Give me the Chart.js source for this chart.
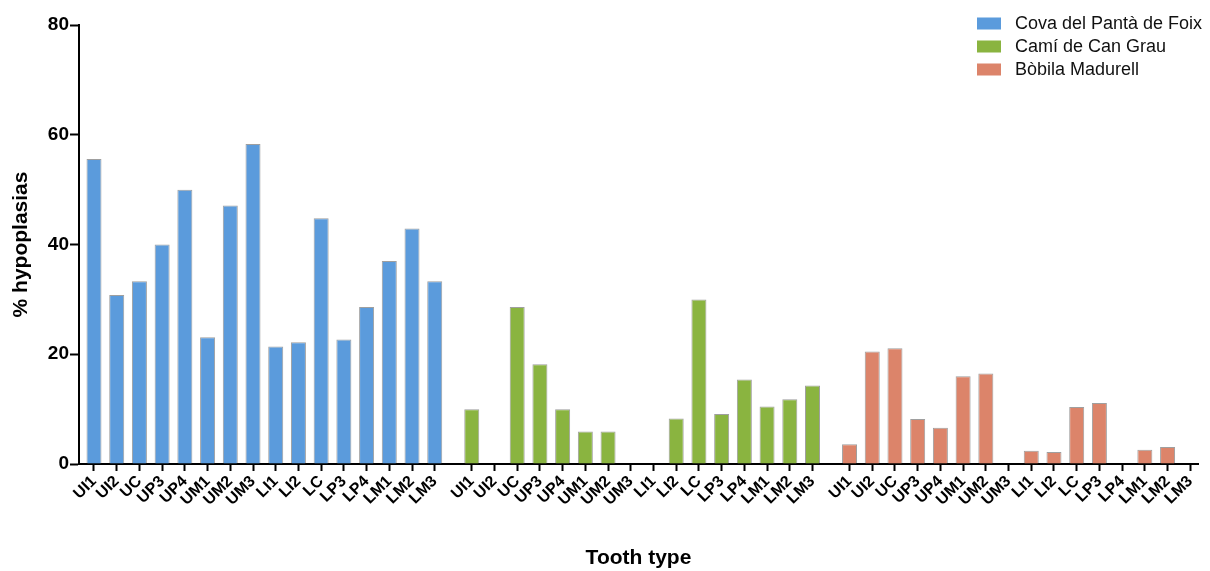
<!DOCTYPE html>
<html lang="en">
<head>
    <meta charset="UTF-8">
    <title>Hypoplasias by tooth type</title>
    <style>
        body { margin: 0; background: #fff; }
        #wrap { width: 1210px; height: 571px; }
    </style>
</head>
<body>
    <div id="wrap">
        <canvas id="myChart"></canvas>
    </div>

    <script src="https://cdn.jsdelivr.net/npm/chart.js"></script>

    <script>
// Tooth types, repeated once for each site
const teeth = ['UI1', 'UI2', 'UC', 'UP3', 'UP4', 'UM1', 'UM2', 'UM3', 'LI1', 'LI2', 'LC', 'LP3', 'LP4', 'LM1', 'LM2', 'LM3'];
const sites = ['Cova del Pantà de Foix', 'Camí de Can Grau', 'Bòbila Madurell'];

// % hypoplasias per tooth type
const covaPanta = [55.6, 30.8, 33.3, 40.0, 50.0, 23.1, 47.1, 58.3, 21.4, 22.2, 44.8, 22.7, 28.6, 37.0, 42.9, 33.3];
const camiCanGrau = [10.0, 0, 28.6, 18.2, 10.0, 5.9, 5.9, 0, 0, 8.3, 30.0, 9.1, 15.4, 10.5, 11.8, 14.3];
const bobilaMadurell = [3.6, 20.5, 21.1, 8.2, 6.6, 16.0, 16.5, 0, 2.4, 2.2, 10.4, 11.1, 0, 2.6, 3.1, 0];

const yTicks = [0, 20, 40, 60, 80];

const siteValues = [covaPanta, camiCanGrau, bobilaMadurell];
const siteColors = ['#5b9bdc', '#8ab440', '#dc846a'];
const groupStep = teeth.length - 1 + 1.63;  // distance from a group's first tooth to the next group's

// every tick on the x axis, one per tooth per site
const xPositions = [];
sites.forEach((s, g) => teeth.forEach((t, i) => xPositions.push(g * groupStep + i)));

// legend drawn top right, over the plot
const siteLegend = {
    id: 'siteLegend',
    afterDraw(chart) {
        const ctx = chart.ctx;
        ctx.save();
        ctx.font = '18px "Liberation Sans", Arial, sans-serif';
        ctx.textBaseline = 'middle';
        chart.data.datasets.forEach((ds, k) => {
            const y = 23.5 + k * 23;
            ctx.fillStyle = ds.backgroundColor;
            ctx.fillRect(977, y - 6, 24, 12);
            ctx.fillStyle = '#111';
            ctx.fillText(ds.label, 1015, y + 1);
        });
        ctx.restore();
    }
};

Chart.defaults.font.family = '"Liberation Sans", Arial, sans-serif';
Chart.defaults.color = '#000';

const ctx = document.getElementById('myChart').getContext('2d');
const myChart = new Chart(ctx, {
    type: 'bar',
    data: {
        datasets: sites.map((site, g) => ({
            label: site,
            data: siteValues[g].map((v, i) => ({ x: g * groupStep + i, y: v })),
            backgroundColor: siteColors[g],
            borderColor: 'rgba(80, 80, 80, 0.55)',
            borderWidth: 1,
            grouped: false,
            barPercentage: 0.66,
            categoryPercentage: 1.0
        }))
    },
    options: {
        responsive: true,
        maintainAspectRatio: false,
        animation: false,
        layout: { padding: { top: 25, right: 12, bottom: 0, left: 0 } },
        plugins: {
            legend: { display: false },
            tooltip: { enabled: false }
        },
        scales: {
            x: {
                type: 'linear',
                min: -0.66,
                max: 48.6,
                offset: false,
                afterBuildTicks: scale => { scale.ticks = xPositions.map(v => ({ value: v })); },
                afterFit: scale => { scale.height = 107; },
                ticks: {
                    autoSkip: false,
                    maxRotation: 45,
                    minRotation: 45,
                    padding: 1,
                    font: { size: 16, weight: 'bold' },
                    callback: (val, i) => teeth[i % teeth.length]
                },
                grid: {
                    offset: false,
                    drawOnChartArea: false,
                    tickLength: 7,
                    tickWidth: 2,
                    tickColor: '#000'
                },
                border: { display: true, color: '#000', width: 2 },
                title: {
                    display: true,
                    text: 'Tooth type',
                    font: { size: 21, weight: 'bold' },
                    padding: { top: 0, bottom: 0 }
                }
            },
            y: {
                min: 0,
                max: 80,
                afterBuildTicks: scale => { scale.ticks = yTicks.map(v => ({ value: v })); },
                afterFit: scale => { scale.width = 79; },
                ticks: {
                    padding: 1,
                    font: { size: 19, weight: 'bold' }
                },
                grid: {
                    drawOnChartArea: false,
                    tickLength: 9,
                    tickWidth: 2,
                    tickColor: '#000'
                },
                border: { display: true, color: '#000', width: 2 },
                title: {
                    display: true,
                    text: '% hypoplasias',
                    font: { size: 21, weight: 'bold' },
                    padding: { top: 9, bottom: 0 }
                }
            }
        }
    },
    plugins: [siteLegend]
});
    </script>
</body>
</html>
